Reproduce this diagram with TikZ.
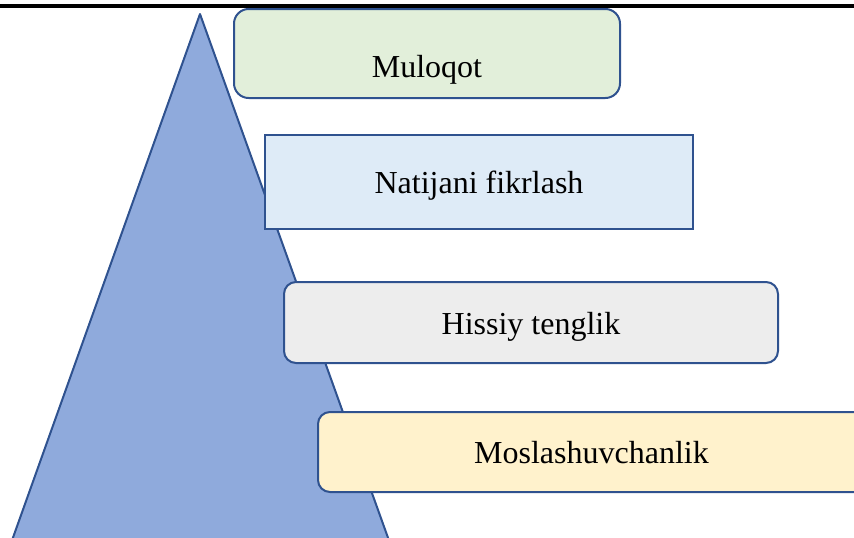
\documentclass[tikz,border=0pt]{standalone}
\usepackage{fontspec}
\setmainfont{Liberation Serif}
\usepackage{xcolor}
\definecolor{pyrfill}{HTML}{8FAADC}
\definecolor{edgeblue}{HTML}{2F528F}
\definecolor{greenbox}{HTML}{E2EFDA}
\definecolor{bluebox}{HTML}{DEEBF7}
\definecolor{graybox}{HTML}{EDEDED}
\definecolor{yellowbox}{HTML}{FFF2CC}
\usepackage{tikz}

\tikzset{
  level/.style={draw=edgeblue, line width=1.5pt, inner sep=0pt},
  levelround/.style={level, rounded corners=11pt},
  leveltext/.style={font=\fontsize{24}{28}\selectfont}
}

\begin{document}
\begin{tikzpicture}[x=0.75pt, y=-0.75pt]
\useasboundingbox (0,0) rectangle (854,537);
\clip (0,0) rectangle (854,537);
% header rule
\fill[black] (0,4) rectangle (854,7.5);
% pyramid behind the levels
\draw[edgeblue, line width=1.5pt, fill=pyrfill, line join=round] (200,14) -- (5,560) -- (396,560) -- cycle;
% levels
\node[levelround, fill=greenbox, minimum width=289.5pt, minimum height=66.75pt] (muloqot) at (427,53.5) {};
\node[leveltext] (muloqotText) at (427,69.5) {Muloqot};
\node[level, fill=bluebox, minimum width=321pt, minimum height=70.5pt] (natija) at (479,182) {};
\node[leveltext] (natijaText) at (479,186) {Natijani fikrlash};
\node[levelround, rounded corners=9pt, fill=graybox, minimum width=370.5pt, minimum height=60.75pt] (hissiy) at (531,322.5) {};
\node[leveltext] (hissiyText) at (531,326.5) {Hissiy tenglik};
\node[levelround, rounded corners=9pt, fill=yellowbox, minimum width=421.5pt, minimum height=60pt] (moslash) at (599,452) {};
\node[leveltext] (moslashText) at (591.5,453) {Moslashuvchanlik};
\end{tikzpicture}
\end{document}
